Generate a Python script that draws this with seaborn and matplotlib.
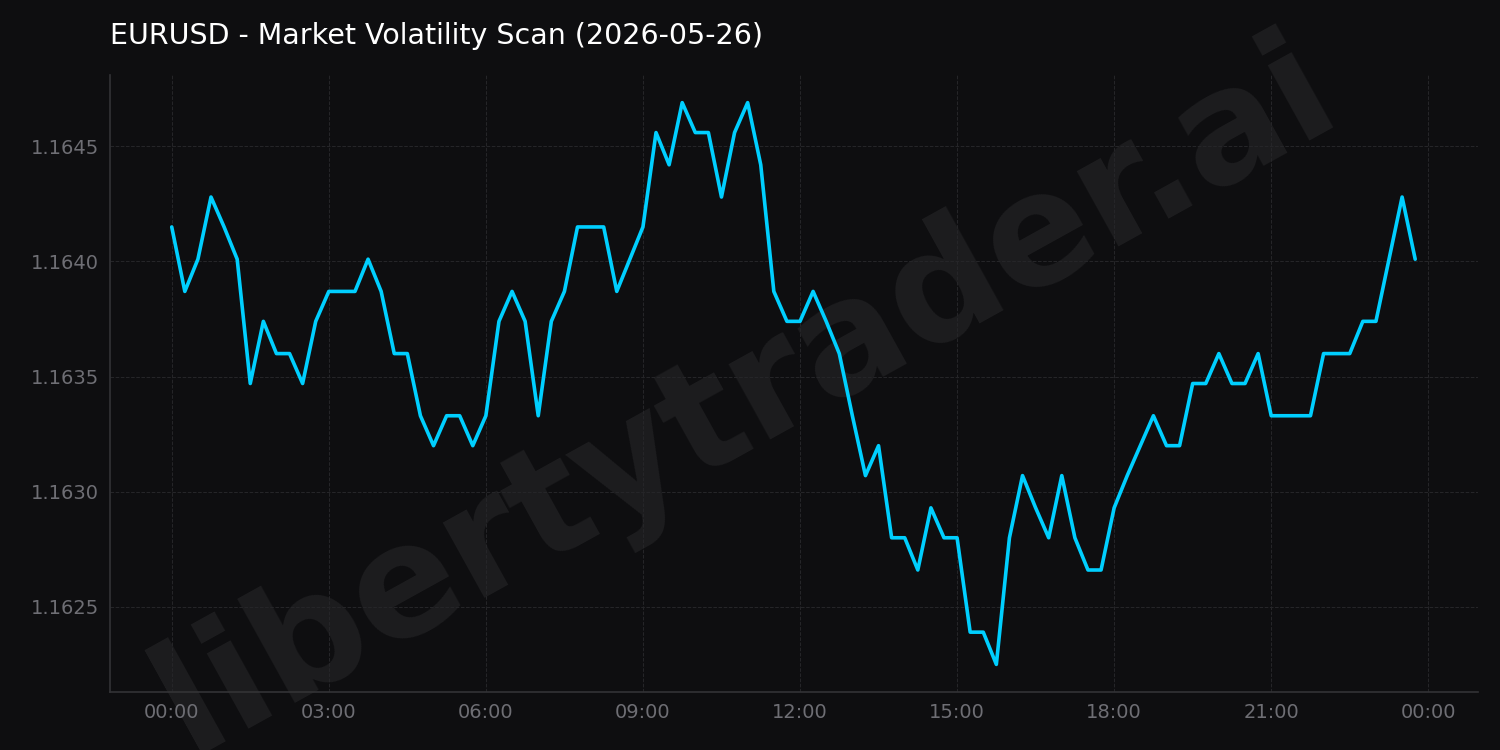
import matplotlib
matplotlib.use("Agg")
import matplotlib.pyplot as plt
import seaborn as sns
import pandas as pd
import numpy as np

title = "EURUSD - Market Volatility Scan (2026-05-26)"
hours = [i * 0.25 for i in range(96)]
prices = [1.16415, 1.16387, 1.16401, 1.16428, 1.16415, 1.16401, 1.16347, 1.16374, 1.16360, 1.16360,
          1.16347, 1.16374, 1.16387, 1.16387, 1.16387, 1.16401, 1.16387, 1.16360, 1.16360, 1.16333,
          1.16320, 1.16333, 1.16333, 1.16320, 1.16333, 1.16374, 1.16387, 1.16374, 1.16333, 1.16374,
          1.16387, 1.16415, 1.16415, 1.16415, 1.16387, 1.16401, 1.16415, 1.16456, 1.16442, 1.16469,
          1.16456, 1.16456, 1.16428, 1.16456, 1.16469, 1.16442, 1.16387, 1.16374, 1.16374, 1.16387,
          1.16374, 1.16360, 1.16333, 1.16307, 1.16320, 1.16280, 1.16280, 1.16266, 1.16293, 1.16280,
          1.16280, 1.16239, 1.16239, 1.16225, 1.16280, 1.16307, 1.16293, 1.16280, 1.16307, 1.16280,
          1.16266, 1.16266, 1.16293, 1.16307, 1.16320, 1.16333, 1.16320, 1.16320, 1.16347, 1.16347,
          1.16360, 1.16347, 1.16347, 1.16360, 1.16333, 1.16333, 1.16333, 1.16333, 1.16360, 1.16360,
          1.16360, 1.16374, 1.16374, 1.16401, 1.16428, 1.16401]
xticks = [0, 3, 6, 9, 12, 15, 18, 21, 24]
xticklabels = ["00:00", "03:00", "06:00", "09:00", "12:00", "15:00", "18:00", "21:00", "00:00"]
yticks = [1.1625, 1.1630, 1.1635, 1.1640, 1.1645]

bg = "#0e0e10"
sns.set_theme(style="dark")
fig = plt.figure(figsize=(15, 7.5), dpi=100, facecolor=bg)
ax = fig.add_axes([0.0733, 0.0773, 0.9117, 0.8227])
ax.set_facecolor(bg)

ax.text(0.497, 0.47, "libertytrader.ai", rotation=29, fontsize=112, fontweight="bold",
        color="#1d1d1f", ha="center", va="center", zorder=0.5,
        transform=fig.transFigure, clip_on=False)

df = pd.DataFrame({"h": hours, "p": prices})
sns.lineplot(data=df, x="h", y="p", ax=ax, color="#00cfff", linewidth=2.6, zorder=3)

ax.set_xlim(-1.18, 24.94)
ax.set_ylim(1.16213, 1.16481)
ax.set_xticks(xticks)
ax.set_xticklabels(xticklabels)
ax.set_yticks(yticks)
ax.set_yticklabels([f"{v:.4f}" for v in yticks])
ax.tick_params(colors="#6e6e74", labelsize=14, length=0, pad=8)
ax.set_xlabel("")
ax.set_ylabel("")
ax.grid(True, color="#262629", linestyle="--", linewidth=0.7)
ax.set_axisbelow(True)
for s in ["top", "right"]:
    ax.spines[s].set_visible(False)
for s in ["left", "bottom"]:
    ax.spines[s].set_visible(True)
    ax.spines[s].set_color("#333336")
    ax.spines[s].set_linewidth(1.2)
fig.text(0.0733, 0.952, title, color="white", fontsize=20.5, ha="left", va="center")
fig.savefig("out.png", facecolor=bg)
